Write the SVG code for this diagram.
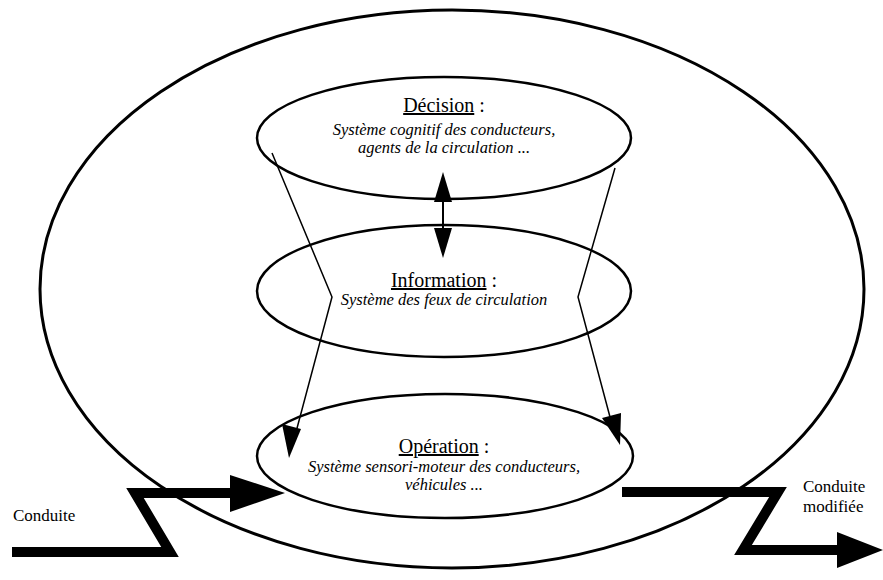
<svg xmlns="http://www.w3.org/2000/svg" width="883" height="580" viewBox="0 0 883 580">
<style>
.big{fill:none;stroke:#000;stroke-width:3}
.lvl{fill:none;stroke:#000;stroke-width:2.5}
.thin{fill:none;stroke:#000;stroke-width:1.5}
.thick{fill:none;stroke:#000;stroke-width:10;stroke-linejoin:miter}
.head{fill:#000}
.title{font-size:20px;text-anchor:middle}
.it{font-size:16.5px;font-style:italic;text-anchor:middle}
.lab{font-size:17px}
</style>
<rect width="883" height="580" fill="#fff"/>
<g id="outer"><ellipse class="big" cx="452" cy="289" rx="412" ry="279"/></g>
<g id="connectors">
<polyline class="thin" points="272,153 332,297 292,447"/>
<polygon class="head" points="289,458 282,424 301,429"/>
<polyline class="thin" points="615,168 578,297 614,432"/>
<polygon class="head" points="620,445 602,418 621,413"/>
<line class="thin" x1="443" y1="195" x2="443" y2="235" style="stroke-width:2"/>
<polygon class="head" points="443,172 434,202 452,202"/>
<polygon class="head" points="443,258 434,228 452,228"/>
<polyline class="thick" points="12,552 170,552 135,493 240,493"/>
<polygon class="head" points="285,493 230,475 230,512"/>
<polyline class="thick" points="622,492 778,492 743,550 840,550"/>
<polygon class="head" points="883,550 837,532 837,568"/>
</g>
<g id="decision" font-family="Liberation Serif, Times New Roman, serif">
<ellipse class="lvl" cx="444" cy="138" rx="187" ry="61"/>
<text class="title" x="444" y="112"><tspan text-decoration="underline">Décision</tspan> :</text>
<text class="it" x="444" y="135">Système cognitif des conducteurs,</text>
<text class="it" x="444" y="153">agents de la circulation ...</text>
</g>
<g id="information" font-family="Liberation Serif, Times New Roman, serif">
<ellipse class="lvl" cx="444" cy="291" rx="187" ry="66"/>
<text class="title" x="444" y="287"><tspan text-decoration="underline">Information</tspan> :</text>
<text class="it" x="444" y="305">Système des feux de circulation</text>
</g>
<g id="operation" font-family="Liberation Serif, Times New Roman, serif">
<ellipse class="lvl" cx="445" cy="456" rx="188" ry="62"/>
<text class="title" x="444" y="453"><tspan text-decoration="underline">Opération</tspan> :</text>
<text class="it" x="444" y="472">Système sensori-moteur des conducteurs,</text>
<text class="it" x="444" y="490">véhicules ...</text>
</g>
<g id="labels" font-family="Liberation Serif, Times New Roman, serif">
<text class="lab" x="13" y="521">Conduite</text>
<text class="lab" x="803" y="492">Conduite</text>
<text class="lab" x="803" y="512">modifiée</text>
</g>
</svg>
